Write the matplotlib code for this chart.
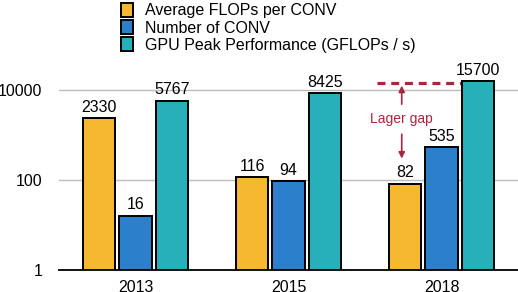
import numpy as np
import matplotlib
matplotlib.use('Agg')
import matplotlib.pyplot as plt

plt.rcParams['font.family'] = ['Liberation Sans', 'DejaVu Sans']
plt.rcParams['font.size'] = 11.5

years = ['2013', '2015', '2018']
avg_flops = [2330, 116, 82]
num_conv = [16, 94, 535]
gpu_peak = [5767, 8425, 15700]
series_names = ['Average FLOPs per CONV', 'Number of CONV',
                'GPU Peak Performance (GFLOPs / s)']
colors = ['#F6B731', '#2C7FCB', '#27AFBA']

fig = plt.figure(figsize=(5.18, 2.92), dpi=100)
ax = fig.add_axes([0.114, 0.075, 0.886, 0.771])

x = np.arange(len(years))
w = 0.21
step = 0.237
handles = []
for k, (vals, c, name) in enumerate(zip([avg_flops, num_conv, gpu_peak], colors, series_names)):
    bars = ax.bar(x + (k - 1) * step, vals, width=w, color=c, edgecolor='black',
                  linewidth=1.4, label=name, zorder=3)
    handles.append(bars)
    for xi, v in zip(x + (k - 1) * step, vals):
        ax.annotate(str(v), (xi, v), xytext=(0, 2.5), textcoords='offset points',
                    ha='center', va='bottom', fontsize=11.5)

ax.set_yscale('log')
ax.set_ylim(1, 1e5)
ax.set_xlim(-0.5, 2.5)
ax.set_yticks([1, 100, 10000])
ax.set_yticklabels(['1', '100', '10000'])
ax.minorticks_off()
ax.set_xticks(x)
ax.set_xticklabels(years)
ax.tick_params(axis='both', length=0, labelsize=11.5)
ax.tick_params(axis='y', pad=12)
ax.tick_params(axis='x', pad=7)
ax.grid(axis='y', color='#BBBBBB', linewidth=1, zorder=0)
for s in ['top', 'right', 'left']:
    ax.spines[s].set_visible(False)
ax.spines['bottom'].set_linewidth(1.3)
ax.spines['bottom'].set_zorder(4)

# gap annotation
red = '#A8263F'
ax.plot([1.58, 2.13], [14400, 14400], color=red, linestyle=(0, (2.5, 1.8)), linewidth=2.3, zorder=2)
ax.annotate('', xy=(1.74, 14400), xytext=(1.74, 4200),
            arrowprops=dict(arrowstyle='-|>', color=red, lw=1.2, mutation_scale=9))
ax.annotate('', xy=(1.74, 260), xytext=(1.74, 1200),
            arrowprops=dict(arrowstyle='-|>', color=red, lw=1.2, mutation_scale=9))
ax.text(1.74, 2300, 'Lager gap', color=red, ha='center', va='center', fontsize=10)

fig.legend(handles=handles, loc='upper left', bbox_to_anchor=(0.222, 1.012),
           frameon=False, handlelength=0.75, handleheight=0.95, handletextpad=0.75,
           labelspacing=0.12, fontsize=11.5, borderaxespad=0)

fig.savefig('out.png', dpi=100)
